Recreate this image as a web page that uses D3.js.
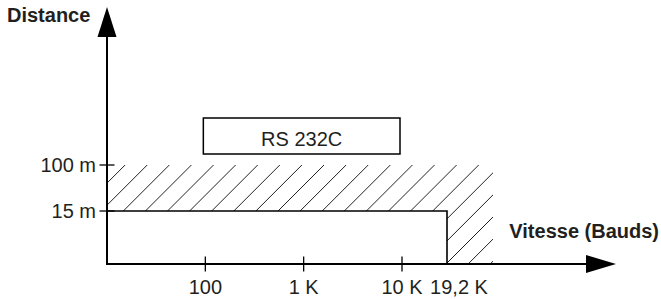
<!DOCTYPE html>
<html>
<head>
<meta charset="utf-8">
<script src="https://cdn.jsdelivr.net/npm/d3@7"></script>
<style>
  html, body { margin: 0; padding: 0; background: #fff; }
  svg { display: block; font-family: "Liberation Sans", Arial, sans-serif; }
</style>
</head>
<body>
<svg id="chart" width="661" height="299"></svg>
<script>
// ---- data ----
const xTickValues = [100, 1000, 10000];
const xTickLabels = ["100", "1 K", "10 K"];
const speedLimit = 19200;
const speedLimitLabel = "19,2 K";
const yTickValues = [15, 100];
const yTickLabels = ["15 m", "100 m"];
const shortDistance = 15;   // white zone height (m)
const longDistance = 100;   // hatched zone height (m)
const boxLabel = "RS 232C";
const boxSpan = [100, 10000];
const xTitle = "Vitesse (Bauds)";
const yTitle = "Distance";

// ---- layout ----
const svg = d3.select("#chart");
const ink = "#231f20";
const originX = 107, axisY = 264;

// schematic (piecewise) scales
const x = d3.scaleLog().domain([10, 10000, speedLimit]).range([originX, 402, 447]);
const y = d3.scaleLinear().domain([0, shortDistance, longDistance]).range([axisY, 211, 165]);

const limitX = x(speedLimit);
const hatchRight = limitX + 46;
const yShort = y(shortDistance), yLong = y(longDistance);

// hatched region
const hatchPoly = [
  [originX, yLong], [hatchRight, yLong], [hatchRight, axisY],
  [limitX, axisY], [limitX, yShort], [originX, yShort]
];
const defs = svg.append("defs");
defs.append("clipPath").attr("id", "hclip")
  .append("polygon").attr("points", hatchPoly.map(p => p.join(",")).join(" "));
const hatch = svg.append("g").attr("clip-path", "url(#hclip)");
const spacing = 22.1, c0 = 334.3;
const ks = d3.range(-3, 21);
hatch.selectAll("line").data(ks).join("line")
  .attr("x1", k => c0 + k * spacing - axisY - 5).attr("y1", axisY + 5)
  .attr("x2", k => c0 + k * spacing - yLong + 5).attr("y2", yLong - 5)
  .attr("stroke", "#222").attr("stroke-width", 1);

// white zone outline
svg.append("path")
  .attr("d", `M${originX},${yShort}H${limitX}V${axisY}`)
  .attr("fill", "none").attr("stroke", "#000").attr("stroke-width", 1.6);

// axes
svg.append("line").attr("x1", originX).attr("y1", axisY).attr("x2", originX).attr("y2", 37)
  .attr("stroke", "#000").attr("stroke-width", 2);
svg.append("path").attr("d", `M${originX},7L${originX + 9.5},37L${originX - 9.5},37Z`).attr("fill", "#000");
svg.append("line").attr("x1", originX - 1).attr("y1", axisY).attr("x2", 586).attr("y2", axisY)
  .attr("stroke", "#000").attr("stroke-width", 2);
svg.append("path").attr("d", `M616,${axisY}L586,${axisY - 9}L586,${axisY + 9}Z`).attr("fill", "#000");

// x ticks
const xt = svg.append("g");
xt.selectAll("line").data(xTickValues).join("line")
  .attr("x1", d => x(d)).attr("x2", d => x(d))
  .attr("y1", axisY - 7.5).attr("y2", axisY + 7.5)
  .attr("stroke", "#000").attr("stroke-width", 1.3);
xt.selectAll("text").data(xTickValues).join("text")
  .attr("x", d => x(d)).attr("y", 293.5)
  .attr("text-anchor", "middle").attr("font-size", 20).attr("fill", ink)
  .text((d, i) => xTickLabels[i]);
svg.append("text").attr("x", limitX + 12).attr("y", 293.5)
  .attr("text-anchor", "middle").attr("font-size", 20).attr("fill", ink)
  .text(speedLimitLabel);

// y ticks
const yt = svg.append("g");
yt.selectAll("line").data(yTickValues).join("line")
  .attr("x1", originX - 7.5).attr("x2", originX + 7.5)
  .attr("y1", d => y(d)).attr("y2", d => y(d))
  .attr("stroke", "#000").attr("stroke-width", 1.3);
yt.selectAll("text").data(yTickValues).join("text")
  .attr("x", 96).attr("y", d => y(d)).attr("dy", "0.36em")
  .attr("text-anchor", "end").attr("font-size", 20).attr("fill", ink)
  .text((d, i) => yTickLabels[i]);

// titles
svg.append("text").attr("x", 7).attr("y", 21.7)
  .attr("font-size", 20).attr("font-weight", "bold").attr("fill", ink).text(yTitle);
svg.append("text").attr("x", 659).attr("y", 238)
  .attr("text-anchor", "end").attr("font-size", 20).attr("font-weight", "bold").attr("fill", ink).text(xTitle);

// RS 232C box
const bx0 = x(boxSpan[0]) - 2, bx1 = x(boxSpan[1]) - 2;
svg.append("rect").attr("x", bx0).attr("y", 118).attr("width", bx1 - bx0).attr("height", 36)
  .attr("fill", "#fff").attr("stroke", "#000").attr("stroke-width", 1.5);
svg.append("text").attr("x", (bx0 + bx1) / 2).attr("y", 146)
  .attr("text-anchor", "middle").attr("font-size", 20).attr("fill", ink).text(boxLabel);
</script>
</body>
</html>
